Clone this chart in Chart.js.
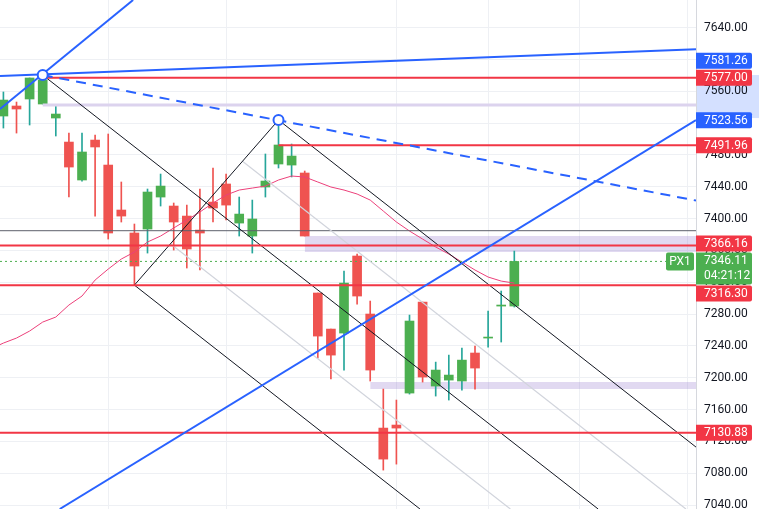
<!DOCTYPE html>
<html lang="en">
<head>
<meta charset="UTF-8">
<title>PX1 candlestick chart</title>
<script src="https://cdn.jsdelivr.net/npm/chart.js"></script>
<style>
  html, body { margin: 0; padding: 0; background: #fff; overflow: hidden; }
  canvas { display: block; }
</style>
</head>
<body>
<canvas id="chart" width="759" height="509"></canvas>
<script>
// candles, index 0 = leftmost one on screen
const opens  = [7528.8, 7541.4, 7550.2, 7543.9, 7526.3, 7496.1, 7448.4, 7498.6, 7467.2, 7410.7,
                7381.8, 7386.8, 7427.0, 7415.7, 7403.1, 7385.5, 7420.7, 7443.4, 7394.3, 7378.0,
                7439.6, 7468.5, 7467.2, 7457.2, 7306.4, 7261.1, 7256.1, 7352.9, 7280.0, 7136.7,
                7140.5, 7180.7, 7295.0, 7189.5, 7197.0, 7195.8, 7231.0, 7249.8, 7290.0, 7290.0];
const highs  = [7559.0, 7546.4, 7576.6, 7576.6, 7541.4, 7507.4, 7507.4, 7504.9, 7506.2, 7445.9,
                7393.1, 7437.1, 7455.9, 7419.5, 7416.9, 7437.1, 7463.5, 7455.9, 7427.0, 7423.2,
                7481.1, 7522.0, 7493.6, 7459.7, 7306.4, 7261.1, 7334.0, 7355.4, 7296.3, 7185.7,
                7171.9, 7278.7, 7295.0, 7219.6, 7228.4, 7237.2, 7239.7, 7283.7, 7308.9, 7359.1];
const lows   = [7513.7, 7507.4, 7517.5, 7543.9, 7503.7, 7427.0, 7447.1, 7403.1, 7374.2, 7395.6,
                7316.3, 7356.6, 7415.7, 7360.4, 7337.8, 7335.3, 7395.6, 7398.1, 7378.0, 7356.6,
                7427.0, 7463.5, 7452.2, 7378.0, 7224.7, 7198.3, 7209.6, 7292.5, 7195.8, 7083.9,
                7091.4, 7179.4, 7194.5, 7176.9, 7171.9, 7184.4, 7185.7, 7238.5, 7244.8, 7288.8];
const closes = [7548.9, 7537.6, 7576.6, 7574.1, 7531.3, 7464.7, 7483.6, 7489.9, 7381.8, 7403.1,
                7340.3, 7433.3, 7440.8, 7395.6, 7361.7, 7381.8, 7413.2, 7416.9, 7405.6, 7399.4,
                7447.1, 7492.4, 7478.5, 7378.0, 7252.3, 7228.4, 7318.9, 7302.6, 7209.6, 7097.7,
                7136.7, 7271.2, 7200.8, 7209.6, 7203.3, 7222.1, 7212.1, 7251.0, 7291.3, 7346.1];

// moving average, first value belongs to the candle just off the left edge (index -1)
const maValues = [7236.0, 7243.5, 7249.8, 7258.6, 7269.9, 7276.2, 7291.3, 7302.6, 7322.7, 7336.5,
                  7349.1, 7357.9, 7370.5, 7378.0, 7388.1, 7398.1, 7408.2, 7419.5, 7429.5, 7435.8,
                  7438.3, 7440.8, 7448.4, 7453.4, 7452.2, 7445.9, 7439.6, 7435.8, 7430.8, 7423.2,
                  7409.4, 7395.6, 7384.3, 7374.2, 7364.2, 7355.4, 7345.3, 7335.3, 7326.5, 7321.4, 7318.9];

// axes
const yTicks = [7040, 7080, 7120, 7160, 7200, 7240, 7280, 7320, 7360, 7400, 7440, 7480, 7520, 7560, 7600, 7640, 7680];
const xGridAt = [8, 17, 30, 37, 44, 52.2];
const xMin = -0.26, xMax = 52.87;
const yMin = 7035.0, yMax = 7674.6;

// pitchfork anchors [index, price]
const pitchA = [3, 7580.3];
const pitchB = [10, 7316.3];
const pitchC = [21, 7523.8];
const medianEnd = [45.4, 7035.0];
const lowerEnd = [31.8, 7035.0];
const upperEnd = [52.87, 7112.8];
const innerUp = [[18.25, 7471.9], [52.1, 7035.0]];
const innerLow = [[12.75, 7368.2], [38.7, 7035.0]];

// trend lines
const blueSteep = [[-0.26, 7537.6], [9.9, 7674.6]];
const blueFlat = [[-0.26, 7579.1], [52.87, 7612.6]];
const blueRise = [[4.3, 7035.0], [52.87, 7523.56]];
const blueDash = [[3, 7580.3], [52.87, 7422.6]];

// horizontal levels [price, start index]
const redLevels = [[7577.00, 3], [7491.96, 21], [7366.16, xMin], [7316.30, xMin], [7130.88, xMin]];
const grayLevel = 7384.7;
const lilacLevel = [7542.6, 3];
const zones = [[7357.9, 7378.0, 23], [7185.7, 7194.5, 28]];
const axisZone = [7580.3, 7526.3];

// price labels on the axis
const lastPrice = 7346.11;
const countdown = '04:21:12';
const priceTags = [
  ['7577.00', 7577.00, '#f23645'],
  ['7581.26', 7581.26, '#2962ff'],
  ['7523.56', 7523.56, '#2962ff'],
  ['7491.96', 7491.96, '#f23645'],
  ['7366.16', 7366.16, '#f23645'],
  ['7316.30', 7316.30, '#f23645'],
  ['7130.88', 7130.88, '#f23645']
];

const GREEN = '#4caf50', GREEN_WICK = '#26a69a', RED = '#ef5350';
const BLUE = '#2962ff', LEVEL_RED = '#f23645';
const FONT = 'Roboto, "Liberation Sans", Arial, sans-serif';

const idx = opens.map((_, i) => i);
const isUp = idx.map(i => closes[i] >= opens[i]);

function seg(points, color, width, dash, order) {
  return {
    type: 'line',
    data: points.map(p => ({ x: p[0], y: p[1] })),
    borderColor: color,
    borderWidth: width,
    borderDash: dash || [],
    pointRadius: 0,
    fill: false,
    tension: 0,
    order: order
  };
}

const datasets = [];

// zones behind everything
zones.forEach(z => {
  datasets.push({
    type: 'line',
    data: [{ x: z[2], y: z[1] }, { x: xMax, y: z[1] }],
    borderWidth: 0,
    pointRadius: 0,
    backgroundColor: 'rgba(149,117,205,0.28)',
    fill: { value: z[0] },
    order: 30
  });
});

// candles
datasets.push({
  type: 'bar',
  data: idx.map(i => ({ x: i, y: [lows[i], highs[i]] })),
  backgroundColor: idx.map(i => isUp[i] ? GREEN_WICK : RED),
  barThickness: 1,
  grouped: false,
  order: 21
});
datasets.push({
  type: 'bar',
  data: idx.map(i => ({ x: i, y: [Math.min(opens[i], closes[i]), Math.max(opens[i], closes[i])] })),
  backgroundColor: idx.map(i => isUp[i] ? GREEN : RED),
  barThickness: 9,
  minBarLength: 1,
  grouped: false,
  order: 20
});

// MA
datasets.push({
  type: 'line',
  data: maValues.map((v, k) => ({ x: k - 1, y: v })),
  borderColor: '#ec407a',
  borderWidth: 1,
  pointRadius: 0,
  tension: 0,
  fill: false,
  order: 15
});

// levels
datasets.push(seg([[xMin, grayLevel], [xMax, grayLevel]], '#5d606b', 1, null, 12));
datasets.push(seg([[lilacLevel[1], lilacLevel[0]], [xMax, lilacLevel[0]]], '#dcd3ee', 3, null, 12));
datasets.push(seg([[xMin, lastPrice], [50.6, lastPrice]], GREEN, 1, [2, 3], 12));
redLevels.forEach(l => datasets.push(seg([[l[1], l[0]], [xMax, l[0]]], LEVEL_RED, 2, null, 8)));

// pitchfork
datasets.push(seg(innerUp, '#d1d4dc', 1.2, null, 10));
datasets.push(seg(innerLow, '#d1d4dc', 1.2, null, 10));
datasets.push(seg([pitchA, medianEnd], '#131722', 1, null, 9));
datasets.push(seg([pitchB, lowerEnd], '#131722', 1, null, 9));
datasets.push(seg([pitchC, upperEnd], '#131722', 1, null, 9));
datasets.push(seg([pitchB, pitchC], '#131722', 1, null, 9));

// blue trend lines
datasets.push(seg(blueSteep, BLUE, 2, null, 5));
datasets.push(seg(blueFlat, BLUE, 2, null, 5));
datasets.push(seg(blueRise, BLUE, 2, null, 5));
datasets.push(seg(blueDash, BLUE, 2, [10, 7], 5));

// anchor circles
datasets.push({
  type: 'line',
  data: [pitchA, pitchC].map(p => ({ x: p[0], y: p[1] })),
  showLine: false,
  pointRadius: 5,
  pointBorderWidth: 2,
  pointBackgroundColor: '#ffffff',
  pointBorderColor: BLUE,
  order: 1
});

function tag(c, x, top, w, h, color) {
  c.fillStyle = color;
  c.beginPath();
  c.roundRect(x, top, w, h, [0, 2, 2, 0]);
  c.fill();
}

const overlay = {
  id: 'overlay',
  beforeDraw(chart) {
    const y = chart.scales.y, c = chart.ctx, area = chart.chartArea;
    const t = y.getPixelForValue(axisZone[0]), b = y.getPixelForValue(axisZone[1]);
    c.save();
    c.fillStyle = 'rgba(41,98,255,0.2)';
    c.fillRect(area.right, t, chart.width - area.right, b - t);
    c.restore();
  },
  afterDraw(chart) {
    const y = chart.scales.y, c = chart.ctx, area = chart.chartArea;
    const x0 = area.right, w = 56, h = 16;
    c.save();
    c.font = '12px ' + FONT;
    c.textBaseline = 'middle';

    // current price box
    const py = y.getPixelForValue(lastPrice);
    const placed = [{ top: py - 9, bottom: py + 23 }];
    tag(c, x0, py - 9, w, 32, GREEN);
    c.fillStyle = '#ffffff';
    c.textAlign = 'left';
    c.fillText(lastPrice.toFixed(2), x0 + 8, py);
    c.fillText(countdown, x0 + 8, py + 15);

    // PX1 box
    c.fillStyle = GREEN;
    c.beginPath();
    c.roundRect(x0 - 30, py - 9, 28, 18, 2);
    c.fill();
    c.fillStyle = '#ffffff';
    c.textAlign = 'center';
    c.fillText('PX1', x0 - 16, py + 0.5);

    // other tags, pushed apart when they overlap
    c.textAlign = 'left';
    priceTags.forEach(t => {
      let cy = y.getPixelForValue(t[1]);
      placed.forEach(p => {
        if (cy - h / 2 < p.bottom && cy + h / 2 > p.top) {
          if (cy < (p.top + p.bottom) / 2) cy = p.top - 1 - h / 2;
          else cy = p.bottom + 1 + h / 2;
        }
      });
      placed.push({ top: cy - h / 2, bottom: cy + h / 2 });
      tag(c, x0, cy - h / 2, w, h, t[2]);
      c.fillStyle = '#ffffff';
      c.fillText(t[0], x0 + 8, cy + 0.5);
    });
    c.restore();
  }
};

new Chart(document.getElementById('chart').getContext('2d'), {
  type: 'bar',
  data: { datasets: datasets },
  options: {
    responsive: false,
    animation: false,
    devicePixelRatio: 1,
    layout: { padding: 0, autoPadding: false },
    plugins: { legend: { display: false }, tooltip: { enabled: false } },
    scales: {
      x: {
        type: 'linear',
        min: xMin,
        max: xMax,
        offset: false,
        afterBuildTicks: s => { s.ticks = xGridAt.map(v => ({ value: v })); },
        ticks: { display: false },
        grid: { color: '#eef0f4', drawTicks: false, offset: false },
        border: { display: false },
        afterFit: s => { s.height = 0; s.paddingLeft = 0; s.paddingRight = 0; }
      },
      y: {
        position: 'right',
        min: yMin,
        max: yMax,
        afterBuildTicks: s => { s.ticks = yTicks.map(v => ({ value: v })); },
        ticks: {
          padding: 8,
          color: '#131722',
          font: { family: FONT, size: 12 },
          callback: v => Number(v).toFixed(2)
        },
        grid: { color: '#eef0f4', drawTicks: false },
        border: { color: '#d6d8de' },
        afterFit: s => { s.width = 63; s.paddingTop = 0; s.paddingBottom = 0; }
      }
    }
  },
  plugins: [overlay]
});
</script>
</body>
</html>
